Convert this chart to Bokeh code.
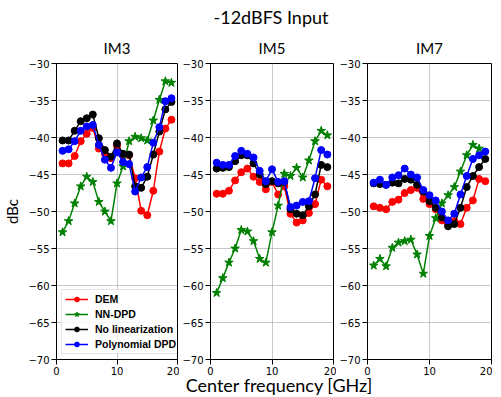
from bokeh.plotting import figure
from bokeh.layouts import column, row
from bokeh.models import Range1d, FixedTicker, Legend, LegendItem, Div, CustomJSTickFormatter
from bokeh.embed import file_html
from bokeh.resources import INLINE

# ---------------- data ----------------
freq = list(range(1, 20))
freq_nn_im7 = list(range(1, 19))

series_names = ["DEM", "NN-DPD", "No linearization", "Polynomial DPD"]

im3_dem = [-43.5, -43.5, -42.5, -40.5, -39.5, -38.7, -41.5, -42.2, -42.8, -41.1, -42.4, -42.4, -45.5, -49.9, -50.5, -47.2, -41.9, -38.8, -37.6]
im3_nn = [-52.8, -51.3, -48.9, -46.6, -45.3, -46.0, -48.7, -50.0, -51.3, -46.2, -43.9, -40.5, -39.9, -40.1, -40.4, -37.7, -34.9, -32.4, -32.6]
im3_nolin = [-40.4, -40.4, -39.1, -37.8, -37.4, -36.9, -40.1, -41.7, -42.6, -40.8, -42.2, -42.3, -46.6, -46.8, -45.3, -42.3, -39.2, -36.2, -35.2]
im3_poly = [-41.8, -41.6, -40.5, -39.1, -38.5, -38.3, -41.0, -43.0, -44.1, -42.0, -43.3, -43.6, -47.3, -45.4, -44.0, -40.7, -38.6, -35.1, -34.7]

im5_dem = [-47.6, -47.6, -47.2, -45.8, -44.7, -44.2, -45.3, -46.0, -47.0, -46.0, -47.7, -46.6, -50.3, -51.5, -51.2, -50.2, -49.0, -45.7, -46.6]
im5_nn = [-61.0, -59.0, -56.9, -55.0, -52.5, -52.7, -54.0, -56.4, -56.9, -52.8, -49.2, -44.9, -45.2, -44.1, -45.4, -43.1, -40.5, -39.1, -39.7]
im5_nolin = [-44.2, -44.1, -44.0, -43.2, -42.4, -42.4, -43.5, -45.0, -46.3, -45.9, -46.2, -46.0, -49.7, -50.3, -50.5, -49.3, -47.7, -43.7, -44.0]
im5_poly = [-43.4, -43.7, -43.7, -42.5, -41.8, -42.2, -42.7, -44.5, -45.9, -44.3, -46.0, -45.9, -49.4, -49.2, -48.7, -48.6, -45.5, -41.7, -42.3]

im7_dem = [-49.3, -49.5, -49.7, -48.7, -48.4, -47.5, -47.1, -46.8, -48.3, -49.0, -49.7, -51.2, -51.7, -51.3, -51.7, -49.5, -48.5, -45.6, -45.9]
im7_nn = [-57.3, -56.4, -57.4, -54.9, -54.2, -54.0, -53.8, -55.8, -58.4, -53.3, -50.9, -48.9, -47.8, -46.7, -44.6, -42.4, -41.0, -41.5]
im7_nolin = [-46.2, -46.3, -46.4, -46.1, -46.2, -45.6, -45.7, -46.4, -47.3, -48.6, -49.5, -50.8, -52.0, -51.7, -49.5, -46.7, -45.2, -44.0, -42.9]
im7_poly = [-46.1, -45.7, -46.4, -45.4, -45.1, -44.2, -45.0, -45.4, -47.1, -47.8, -48.5, -50.0, -51.2, -50.3, -47.7, -45.2, -42.9, -42.4, -41.9]

x_ticks = [0, 10, 20]
y_ticks = [-70, -65, -60, -55, -50, -45, -40, -35, -30]

colors = ["#ff0000", "#008000", "#000000", "#0000ff"]
markers = ["circle", "star", "circle", "circle"]

LABEL_FONT = "Lato"
TICK_FONT = "DejaVu Sans"


def make_panel(title, xs_list, ys_list, border_left, border_right, ylabel=None, legend=False):
    p = figure(width=border_left + 128 + border_right, height=35 + 296 + 18,
               x_range=Range1d(0, 20), y_range=Range1d(-70, -30),
               output_backend="svg", toolbar_location=None,
               min_border_left=border_left, min_border_right=border_right,
               min_border_top=35, min_border_bottom=18, title=title)
    p.title.text_font = LABEL_FONT
    p.title.text_font_size = "15px"
    p.title.text_font_style = "normal"
    p.title.align = "center"
    p.title.text_color = "#000000"
    p.title.standoff = 13
    p.outline_line_color = "#000000"
    p.outline_line_width = 1
    p.outline_line_alpha = 1
    p.background_fill_color = "white"
    p.border_fill_color = "white"

    fmt = CustomJSTickFormatter(code="return (tick < 0 ? '\u2212' : '') + Math.abs(tick);")
    for ax, ticks in ((p.xaxis, x_ticks), (p.yaxis, y_ticks)):
        ax.ticker = FixedTicker(ticks=ticks)
        ax.major_label_text_font = TICK_FONT
        ax.major_label_text_font_size = "10px"
        ax.major_label_text_color = "#000000"
        ax.major_tick_out = 5
        ax.major_tick_in = 0
        ax.minor_tick_out = 0
        ax.minor_tick_in = 0
        ax.axis_line_color = "#000000"
        ax.major_tick_line_color = "#000000"
        ax.major_label_standoff = 2
    p.yaxis.formatter = fmt
    if ylabel:
        p.yaxis.axis_label = ylabel
        p.yaxis.axis_label_text_font = LABEL_FONT
        p.yaxis.axis_label_text_font_size = "15px"
        p.yaxis.axis_label_text_font_style = "normal"
        p.yaxis.axis_label_text_color = "#000000"
        p.yaxis.axis_label_standoff = 4

    p.xgrid.ticker = FixedTicker(ticks=x_ticks)
    p.ygrid.ticker = FixedTicker(ticks=y_ticks)
    for g in (p.xgrid, p.ygrid):
        g.grid_line_color = "#b0b0b0"
        g.grid_line_alpha = 0.7
        g.grid_line_width = 1

    items = []
    for name, xs, ys, c, m in zip(series_names, xs_list, ys_list, colors, markers):
        lr = p.line(xs, ys, line_color=c, line_width=1.5)
        if m == "star":
            sr = p.scatter(xs, ys, marker="star", size=9, fill_color=c, line_color=c)
        else:
            sr = p.scatter(xs, ys, marker="circle", size=7, fill_color=c, line_color=c)
        items.append(LegendItem(label=name, renderers=[lr, sr]))

    if legend:
        lg = Legend(items=items, location="bottom_left")
        lg.label_text_font = "Liberation Sans"
        lg.label_text_font_style = "bold"
        lg.label_text_font_size = "10.5px"
        lg.label_text_color = "#000000"
        lg.glyph_width = 23
        lg.glyph_height = 12
        lg.label_height = 12
        lg.label_standoff = 7
        lg.spacing = 3
        lg.padding = 3
        lg.margin = 5
        lg.border_line_color = "#cccccc"
        lg.border_line_width = 1
        lg.background_fill_color = "white"
        lg.background_fill_alpha = 0.85
        p.add_layout(lg)
    return p


p1 = make_panel("IM3", [freq, freq, freq, freq], [im3_dem, im3_nn, im3_nolin, im3_poly],
                49, 2, ylabel="dBc", legend=True)
p2 = make_panel("IM5", [freq, freq, freq, freq], [im5_dem, im5_nn, im5_nolin, im5_poly],
                26, 3)
p3 = make_panel("IM7", [freq, freq_nn_im7, freq, freq], [im7_dem, im7_nn, im7_nolin, im7_poly],
                27, 1)

title_div = Div(text="-12dBFS Input", width=492, height=18,
                styles={"font-family": "Lato", "font-size": "18px", "line-height": "18px",
                        "text-align": "center", "color": "#000", "width": "532px",
                        "position": "relative", "top": "3px"})
xlabel_div = Div(text="Center frequency [GHz]", width=492, height=8,
                 styles={"font-family": "Lato", "font-size": "18px", "line-height": "16px",
                         "text-align": "center", "color": "#000", "width": "548px",
                         "position": "relative", "top": "-5px"})

layout = column(title_div, row(p1, p2, p3, spacing=0), xlabel_div, spacing=0)

with open("out.html", "w") as f:
    f.write(file_html(layout, INLINE))
